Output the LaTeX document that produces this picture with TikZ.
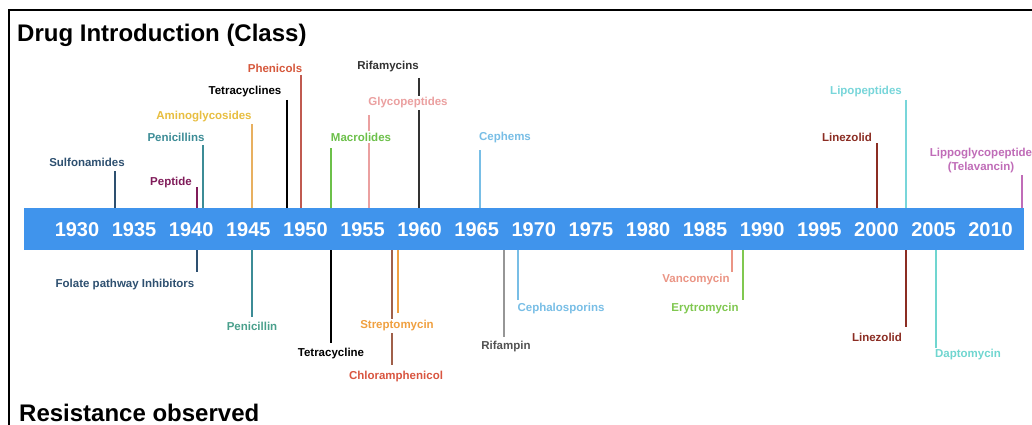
\documentclass[tikz,border=0pt]{standalone}
\usepackage{fontspec}
\setmainfont{Liberation Sans}
\definecolor{barblue}{RGB}{64,148,236}
\definecolor{csulf}{RGB}{46,80,112}
\definecolor{cpept}{RGB}{128,28,90}
\definecolor{cpenis}{RGB}{60,140,150}
\definecolor{cpeni}{RGB}{74,160,140}
\definecolor{camino}{RGB}{232,190,64}
\definecolor{caminol}{RGB}{232,176,96}
\definecolor{cphen}{RGB}{214,88,60}
\definecolor{cphenl}{RGB}{192,90,80}
\definecolor{cmacro}{RGB}{108,192,74}
\definecolor{cglyco}{RGB}{235,160,160}
\definecolor{crifa}{RGB}{50,50,50}
\definecolor{crifl}{RGB}{150,150,150}
\definecolor{cceph}{RGB}{120,190,230}
\definecolor{cline}{RGB}{139,45,35}
\definecolor{clipo}{RGB}{120,214,218}
\definecolor{clippo}{RGB}{192,108,184}
\definecolor{cstrep}{RGB}{240,160,64}
\definecolor{cchlor}{RGB}{217,85,64}
\definecolor{cchlorl}{RGB}{160,96,74}
\definecolor{cvanco}{RGB}{235,149,133}
\definecolor{cery}{RGB}{128,200,80}
\definecolor{cdapto}{RGB}{112,214,208}
\tikzset{
  lbl/.style={font=\bfseries\fontsize{11.5}{13}\selectfont, fill=white, inner sep=1.5pt, align=center},
  conn/.style={line width=1.6pt},
  yr/.style={font=\bfseries\fontsize{20}{22}\selectfont, text=white, inner sep=0pt},
  ttl/.style={font=\bfseries\fontsize{24}{26}\selectfont, anchor=base west, inner sep=0pt},
}
\begin{document}
\begin{tikzpicture}[x=1pt,y=-1pt]
\useasboundingbox (0,0) rectangle (1032,425);
% frame
\draw[line width=2.5pt, black] (9,430) -- (9,10) -- (1040,10);
% bar
\node[fill=barblue, minimum width=1000pt, minimum height=42pt, inner sep=0pt] (bar) at (524,229) {};
\foreach \y [count=\i from 0] in {1930,1935,1940,1945,1950,1955,1960,1965,1970,1975,1980,1985,1990,1995,2000,2005,2010}{
  \node[yr] (y\y) at ({77+\i*57.1},230) {\y};
}
% connector end points (top)
\coordinate (tSulf) at (115,171);
\coordinate (tPept) at (197,187);
\coordinate (tPenis) at (203,145);
\coordinate (tAmino) at (252,123);
\coordinate (tTetras) at (287,100);
\coordinate (tPhen) at (301,75);
\coordinate (tMacro) at (331,148);
\coordinate (tGlyco) at (369,115);
\coordinate (tRifa) at (419,78);
\coordinate (tCeph) at (480,150);
\coordinate (tLipo) at (906,100);
\coordinate (tLine) at (877,143);
\coordinate (tLippo) at (1022,172);
% connector end points (bottom)
\coordinate (bFol) at (197,272);
\coordinate (bPeni) at (252,317);
\coordinate (bTetra) at (331,343);
\coordinate (bStrep) at (398,313);
\coordinate (bChlor) at (392,365);
\coordinate (bRifp) at (504,337);
\coordinate (bCephs) at (518,300);
\coordinate (bVanco) at (732,272);
\coordinate (bEry) at (743,300);
\coordinate (bLine) at (906,327);
\coordinate (bDapto) at (936,350);
% connectors
\draw[conn, csulf] (tSulf) -- (tSulf |- bar.north);
\draw[conn, cpept] (tPept) -- (tPept |- bar.north);
\draw[conn, cpenis] (tPenis) -- (tPenis |- bar.north);
\draw[conn, caminol] (tAmino) -- (tAmino |- bar.north);
\draw[conn, black] (tTetras) -- (tTetras |- bar.north);
\draw[conn, cphenl] (tPhen) -- (tPhen |- bar.north);
\draw[conn, cmacro] (tMacro) -- (tMacro |- bar.north);
\draw[conn, cglyco] (tGlyco) -- (tGlyco |- bar.north);
\draw[conn, crifa] (tRifa) -- (tRifa |- bar.north);
\draw[conn, cceph] (tCeph) -- (tCeph |- bar.north);
\draw[conn, clipo] (tLipo) -- (tLipo |- bar.north);
\draw[conn, cline] (tLine) -- (tLine |- bar.north);
\draw[conn, clippo] (tLippo) -- (tLippo |- bar.north);
\draw[conn, csulf] (bFol |- bar.south) -- (bFol);
\draw[conn, cpenis] (bPeni |- bar.south) -- (bPeni);
\draw[conn, black] (bTetra |- bar.south) -- (bTetra);
\draw[conn, cstrep] (bStrep |- bar.south) -- (bStrep);
\draw[conn, cchlorl] (bChlor |- bar.south) -- (bChlor);
\draw[conn, crifl] (bRifp |- bar.south) -- (bRifp);
\draw[conn, cceph] (bCephs |- bar.south) -- (bCephs);
\draw[conn, cvanco] (bVanco |- bar.south) -- (bVanco);
\draw[conn, cery] (bEry |- bar.south) -- (bEry);
\draw[conn, cline] (bLine |- bar.south) -- (bLine);
\draw[conn, cdapto] (bDapto |- bar.south) -- (bDapto);
% labels (top)
\node[lbl, text=csulf] (sulf) at (87,162) {Sulfonamides};
\node[lbl, text=cpept] (pept) at (171,183) {Peptide};
\node[lbl, text=cpenis] (penis) at (176,137) {Penicillins};
\node[lbl, text=camino] (amino) at (204,117) {Aminoglycosides};
\node[lbl, text=black] (tetras) at (245,92) {Tetracyclines};
\node[lbl, text=cphen] (phen) at (275,68) {Phenicols};
\node[lbl, text=cmacro] (macro) at (361,137) {Macrolides};
\node[lbl, text=cglyco] (glyco) at (408,103) {Glycopeptides};
\node[lbl, text=crifa] (rifa) at (388,67) {Rifamycins};
\node[lbl, text=cceph] (ceph) at (505,138) {Cephems};
\node[lbl, text=clipo] (lipo) at (866,92) {Lipopeptides};
\node[lbl, text=cline] (line1) at (847,137) {Linezolid};
\node[lbl, text=clippo, font=\bfseries\fontsize{11.5}{14}\selectfont] (lippo) at (981,161) {Lippoglycopeptide\\(Telavancin)};
% labels (bottom)
\node[lbl, text=csulf] (fol) at (125,285) {Folate pathway Inhibitors};
\node[lbl, text=cpeni] (peni) at (252,326) {Penicillin};
\node[lbl, text=black] (tetra) at (331,354) {Tetracycline};
\node[lbl, text=cstrep] (strep) at (397,326) {Streptomycin};
\node[lbl, text=cchlor] (chlor) at (396,377) {Chloramphenicol};
\node[lbl, text=crifa!85] (rifp) at (506,347) {Rifampin};
\node[lbl, text=cceph] (cephs) at (561,309) {Cephalosporins};
\node[lbl, text=cvanco] (vanco) at (696,280) {Vancomycin};
\node[lbl, text=cery] (ery) at (705,309) {Erytromycin};
\node[lbl, text=cline] (line2) at (877,337) {Linezolid};
\node[lbl, text=cdapto] (dapto) at (968,355) {Daptomycin};
% titles
\node[ttl] (title) at (17,42) {Drug Introduction (Class)};
\node[ttl] (resist) at (19,421) {Resistance observed};
\end{tikzpicture}
\end{document}
